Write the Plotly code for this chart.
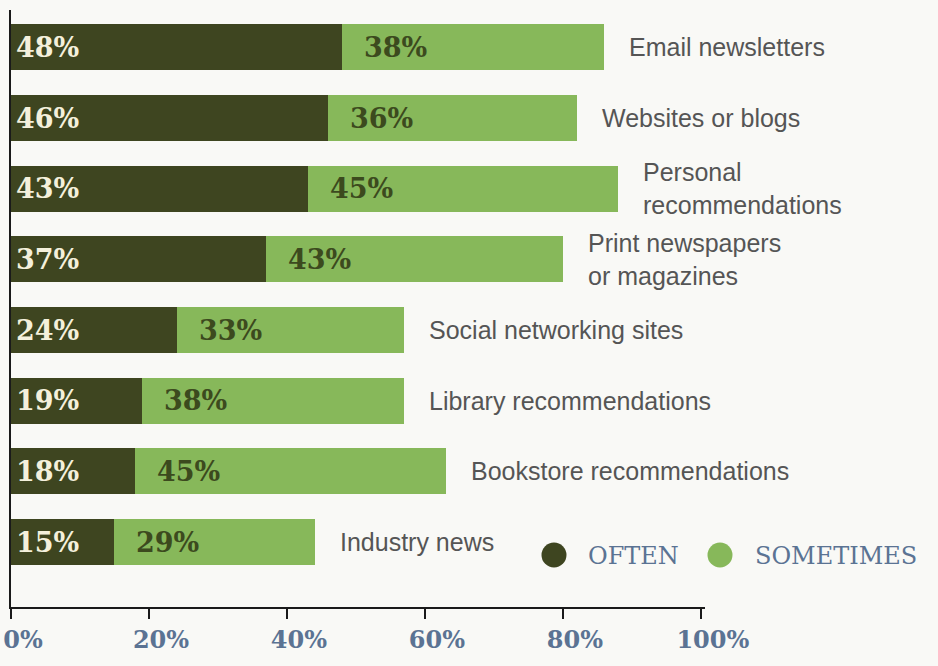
import plotly.graph_objects as go

# Where readers hear about books: share answering "often" / "sometimes"
categories = [
    "Email newsletters",
    "Websites or blogs",
    "Personal<br>recommendations",
    "Print newspapers<br>or magazines",
    "Social networking sites",
    "Library recommendations",
    "Bookstore recommendations",
    "Industry news",
]
often = [48, 46, 43, 37, 24, 19, 18, 15]
sometimes = [38, 36, 45, 43, 33, 38, 45, 29]
tick_values = [0, 20, 40, 60, 80, 100]
tick_labels = ["0%", "20%", "40%", "60%", "80%", "100%"]

DARK = "#3e4520"
LIGHT = "#87b85a"
BG = "#f9f9f6"
SLATE = "#5b7393"
GRAY = "#555555"

W, H = 938, 666
ML, MR, MT, MB = 11, 233, 10, 59

fig = go.Figure()
fig.add_trace(go.Bar(
    y=categories, x=often, orientation="h", name="OFTEN",
    marker=dict(color=DARK, line=dict(width=0)), width=0.65,
    showlegend=False, hoverinfo="x+y",
))
fig.add_trace(go.Bar(
    y=categories, x=sometimes, orientation="h", name="SOMETIMES",
    marker=dict(color=LIGHT, line=dict(width=0)), width=0.65,
    showlegend=False, hoverinfo="x+y",
))

annotations = []
label_font = dict(family="DejaVu Serif", size=27, weight="bold")
for cat, o, s in zip(categories, often, sometimes):
    annotations.append(dict(
        x=0, y=cat, xref="x", yref="y", text=f"{o}%", showarrow=False,
        xanchor="left", xshift=3, font=dict(label_font, color="#f4f0dc"),
    ))
    annotations.append(dict(
        x=o, y=cat, xref="x", yref="y", text=f"{s}%", showarrow=False,
        xanchor="left", xshift=20, font=dict(label_font, color="#3c4a1e"),
    ))
    annotations.append(dict(
        x=o + s, y=cat, xref="x", yref="y", text=cat, showarrow=False,
        xanchor="left", xshift=23, align="left",
        font=dict(family="Liberation Sans", size=25, color=GRAY),
    ))

# legend drawn as dots plus text under the longest bars
pw = W - ML - MR
ph = H - MT - MB


def px_x(px):
    return (px - ML) / pw


def px_y(py):
    return 1 - (py - MT) / ph


shapes = []
for cx, color, text, tx in [(554, DARK, "OFTEN", 586), (720, LIGHT, "SOMETIMES", 753)]:
    shapes.append(dict(
        type="circle", xref="paper", yref="paper",
        xsizemode="pixel", ysizemode="pixel",
        xanchor=px_x(cx), yanchor=px_y(555),
        x0=-12.5, x1=12.5, y0=-12.5, y1=12.5,
        fillcolor=color, line=dict(width=0),
    ))
    annotations.append(dict(
        x=px_x(tx), y=px_y(556), xref="paper", yref="paper", text=text,
        showarrow=False, xanchor="left", yanchor="middle",
        font=dict(family="DejaVu Serif", size=24, color=SLATE),
    ))

fig.update_layout(
    width=W, height=H,
    margin=dict(l=ML, r=MR, t=MT, b=MB, pad=0, autoexpand=False),
    barmode="stack",
    paper_bgcolor=BG, plot_bgcolor=BG,
    annotations=annotations, shapes=shapes,
    xaxis=dict(
        range=[0, 100.6], tickvals=tick_values, ticktext=tick_labels,
        showgrid=False, zeroline=False, automargin=False,
        showline=True, linecolor="#1a1a1a", linewidth=2,
        ticks="outside", ticklen=10, tickwidth=2, tickcolor="#1a1a1a",
        tickfont=dict(family="DejaVu Serif", size=24, color=SLATE, weight="bold"),
        ticklabelstandoff=0, ticklabelshift=12, ticklabeloverflow="allow",
    ),
    yaxis=dict(
        range=[7.92, -0.53], showticklabels=False, ticks="",
        showgrid=False, zeroline=False, automargin=False,
        showline=True, linecolor="#1a1a1a", linewidth=2,
    ),
)

fig.write_html("out.html")
